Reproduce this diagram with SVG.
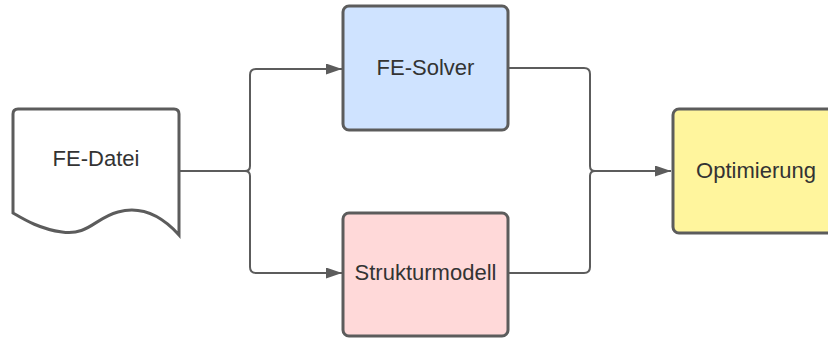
<svg xmlns="http://www.w3.org/2000/svg" width="828" height="338" viewBox="0 0 828 338">
  <style>
    .box { stroke: #5c5c5c; stroke-width: 3; }
    .lbl { font-family: "Liberation Sans", Arial, sans-serif; font-size: 22px; fill: #333333; text-anchor: middle; dominant-baseline: central; }
    .wire { fill: none; stroke: #5c5c5c; stroke-width: 2; }
  </style>
  <defs>
    <marker id="arrow" viewBox="0 0 16 11" refX="16" refY="5.5" markerWidth="16" markerHeight="11" markerUnits="userSpaceOnUse" orient="auto">
      <path d="M0,0 L16,5.5 L0,11 z" fill="#5c5c5c"/>
    </marker>
  </defs>
  <rect width="828" height="338" fill="#ffffff"/>

  <g id="connectors">
    <!-- FE-Datei splits to both processes -->
    <path class="wire" d="M179,171 H245 Q250,171 250,166 V75 Q250,69 256,69 H342" marker-end="url(#arrow)"/>
    <path class="wire" d="M245,171 Q250,171 250,176 V267 Q250,273 256,273 H342" marker-end="url(#arrow)"/>
    <!-- both processes merge into Optimierung -->
    <path class="wire" d="M508,68 H584 Q590,68 590,74 V166 Q590,171 595,171 H671" marker-end="url(#arrow)"/>
    <path class="wire" d="M508,273 H584 Q590,273 590,267 V176 Q590,171 595,171"/>
  </g>

  <g id="fe-datei">
    <path class="box" fill="#ffffff" d="M13,213 V114 Q13,109 18,109 H174 Q179,109 179,114 V235 C160,214 140,206 118,212 C95,218 88,236 62,232 C40,229 25,220 13,213 Z"/>
    <text class="lbl" x="96" y="158">FE-Datei</text>
  </g>

  <g id="fe-solver">
    <rect class="box" x="343" y="6" width="165" height="124" rx="6" fill="#cfe3ff"/>
    <text class="lbl" x="425.5" y="67">FE-Solver</text>
  </g>

  <g id="strukturmodell">
    <rect class="box" x="343" y="213" width="165" height="123" rx="6" fill="#ffd9d9"/>
    <text class="lbl" x="425.5" y="272">Strukturmodell</text>
  </g>

  <g id="optimierung">
    <rect class="box" x="673" y="109" width="170" height="124" rx="6" fill="#fff59d"/>
    <text class="lbl" x="756" y="170">Optimierung</text>
  </g>
</svg>
